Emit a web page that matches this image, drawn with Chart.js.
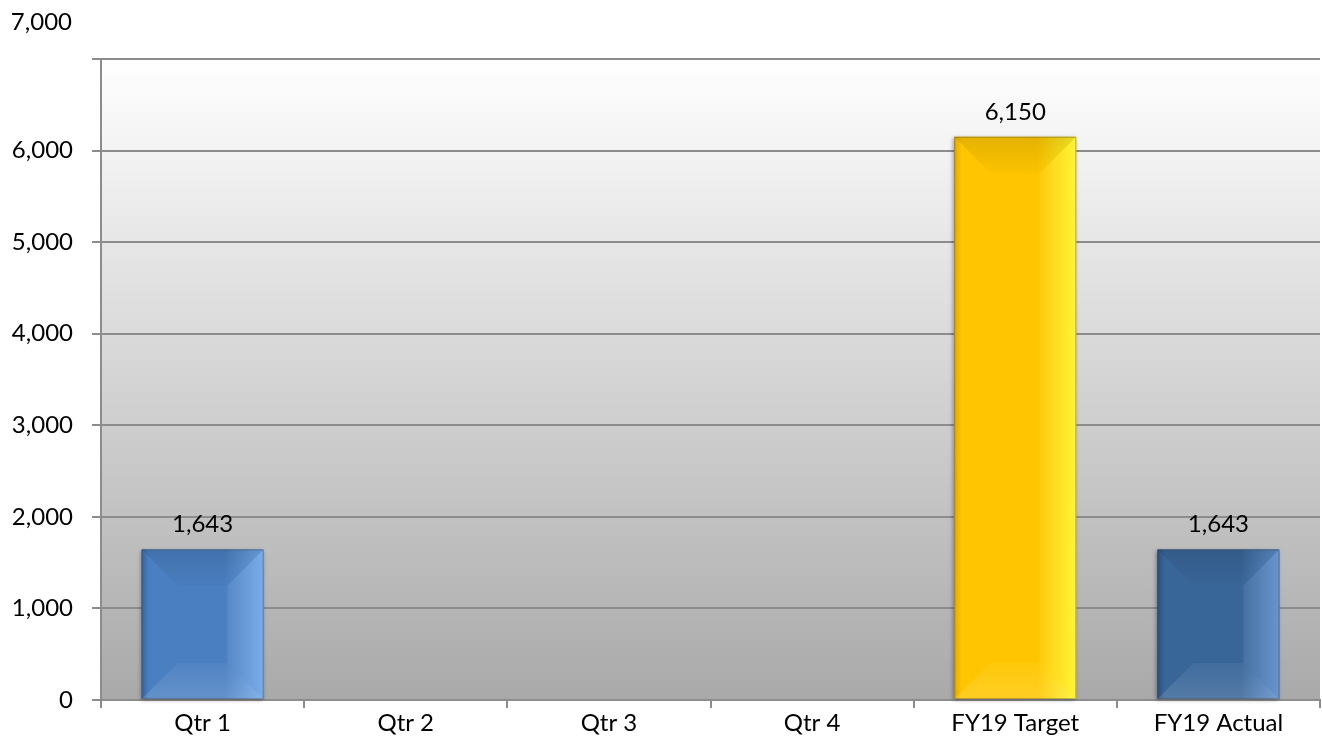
<!DOCTYPE html>
<html>
<head>
<meta charset="utf-8">
<script src="https://cdn.jsdelivr.net/npm/chart.js@4/dist/chart.umd.min.js"></script>
<style>
  html, body { margin: 0; padding: 0; background: #fff; }
  #wrap { width: 1322px; height: 746px; position: relative; }
</style>
</head>
<body>
<div id="wrap"><canvas id="chart"></canvas></div>
<script>
const categories = ['Qtr 1', 'Qtr 2', 'Qtr 3', 'Qtr 4', 'FY19 Target', 'FY19 Actual'];
const values = [1643, null, null, null, 6150, 1643];
const yTicks = [0, 1000, 2000, 3000, 4000, 5000, 6000, 7000];

// face colour + dark/light edges for the bevel look
const barColors = ['#4a7fc1', '#4a7fc1', '#4a7fc1', '#4a7fc1', '#ffc600', '#396699'];
const barLeft = ['#35639c', '#35639c', '#35639c', '#35639c', '#e0a800', '#2a4f7e'];
const barRight = ['#72a8e8', '#72a8e8', '#72a8e8', '#72a8e8', '#fff42a', '#5e8fcb'];

const fmt = v => v.toLocaleString('en-US');

const plotBackground = {
  id: 'plotBackground',
  beforeDraw(chart) {
    const { ctx, chartArea: a } = chart;
    const g = ctx.createLinearGradient(0, a.top, 0, a.bottom);
    g.addColorStop(0, '#ffffff');
    g.addColorStop(1, '#a9a9a9');
    ctx.save();
    ctx.fillStyle = g;
    ctx.fillRect(a.left, a.top, a.right - a.left, a.bottom - a.top);
    ctx.restore();
  }
};

const bevelBars = {
  id: 'bevelBars',
  afterDatasetsDraw(chart) {
    const ctx = chart.ctx;
    const meta = chart.getDatasetMeta(0);
    meta.data.forEach((bar, i) => {
      if (values[i] == null) return;
      const x0 = bar.x - bar.width / 2, x1 = bar.x + bar.width / 2;
      const y0 = bar.y, y1 = bar.base;
      const w = x1 - x0;
      const b = Math.min(36, w / 2, (y1 - y0) / 2);
      ctx.save();
      // soft shadow
      ctx.shadowColor = 'rgba(0,0,0,0.35)';
      ctx.shadowBlur = 4;
      ctx.shadowOffsetX = -1;
      ctx.shadowOffsetY = 1;
      const g = ctx.createLinearGradient(x0, 0, x1, 0);
      g.addColorStop(0, barLeft[i]);
      g.addColorStop(0.06, barColors[i]);
      g.addColorStop(0.68, barColors[i]);
      g.addColorStop(1, barRight[i]);
      ctx.fillStyle = g;
      ctx.fillRect(x0, y0, w, y1 - y0);
      ctx.shadowColor = 'transparent';
      const face = (pts, style) => {
        ctx.beginPath();
        ctx.moveTo(pts[0][0], pts[0][1]);
        pts.slice(1).forEach(p => ctx.lineTo(p[0], p[1]));
        ctx.closePath();
        ctx.fillStyle = style;
        ctx.fill();
      };
      const tg = ctx.createLinearGradient(0, y0, 0, y0 + b);
      tg.addColorStop(0, 'rgba(0,0,0,0.10)');
      tg.addColorStop(1, 'rgba(0,0,0,0.02)');
      face([[x0, y0], [x1, y0], [x1 - b, y0 + b], [x0 + b, y0 + b]], tg);
      const bg = ctx.createLinearGradient(0, y1 - b, 0, y1);
      bg.addColorStop(0, 'rgba(255,255,255,0.04)');
      bg.addColorStop(1, 'rgba(255,255,255,0.14)');
      face([[x0, y1], [x1, y1], [x1 - b, y1 - b], [x0 + b, y1 - b]], bg);
      face([[x1, y0], [x1 - b, y0 + b], [x1 - b, y1 - b], [x1, y1]], 'rgba(255,255,255,0.06)');
      ctx.strokeStyle = 'rgba(70,70,70,0.35)';
      ctx.lineWidth = 1;
      ctx.strokeRect(x0 + 0.5, y0 + 0.5, w - 1, y1 - y0 - 1);
      // value label
      ctx.fillStyle = '#000';
      ctx.font = '24px Lato';
      ctx.textAlign = 'center';
      ctx.textBaseline = 'middle';
      ctx.fillText(fmt(values[i]), bar.x, y0 - 25);
      ctx.restore();
    });
    // the top axis label sits well above its gridline in the original
    const y = chart.scales.y;
    ctx.save();
    ctx.fillStyle = '#000';
    ctx.font = '24px Lato';
    ctx.textAlign = 'right';
    ctx.textBaseline = 'middle';
    ctx.fillText(fmt(yTicks[yTicks.length - 1]), y.right - 29, y.getPixelForValue(yTicks[yTicks.length - 1]) - 37);
    ctx.restore();
  }
};

Chart.defaults.font.family = 'Lato';
Chart.defaults.font.size = 24;
Chart.defaults.color = '#000';

new Chart(document.getElementById('chart'), {
  type: 'bar',
  data: {
    labels: categories,
    datasets: [{
      data: values,
      backgroundColor: barColors,
      borderWidth: 0,
      categoryPercentage: 1,
      barPercentage: 0.6
    }]
  },
  options: {
    responsive: true,
    maintainAspectRatio: false,
    animation: false,
    layout: { padding: { top: 59, right: 2, left: 0, bottom: 0 } },
    plugins: {
      legend: { display: false },
      tooltip: { enabled: false }
    },
    scales: {
      x: {
        grid: { drawOnChartArea: false, drawTicks: true, tickLength: 8, color: '#8c8c8c', lineWidth: 2 },
        border: { display: true, color: '#8c8c8c', width: 2 },
        ticks: { padding: 1, maxRotation: 0, autoSkip: false },
        afterFit: scale => { scale.height = 46; }
      },
      y: {
        min: 0,
        max: 7000,
        grid: { color: '#8c8c8c', lineWidth: 2, tickLength: 9 },
        border: { display: true, color: '#8c8c8c', width: 2 },
        ticks: {
          stepSize: 1000,
          padding: 19,
          callback: v => (v === 7000 ? '' : fmt(v))
        },
        afterFit: scale => { scale.width = 101; }
      }
    }
  },
  plugins: [plotBackground, bevelBars]
});
</script>
</body>
</html>
